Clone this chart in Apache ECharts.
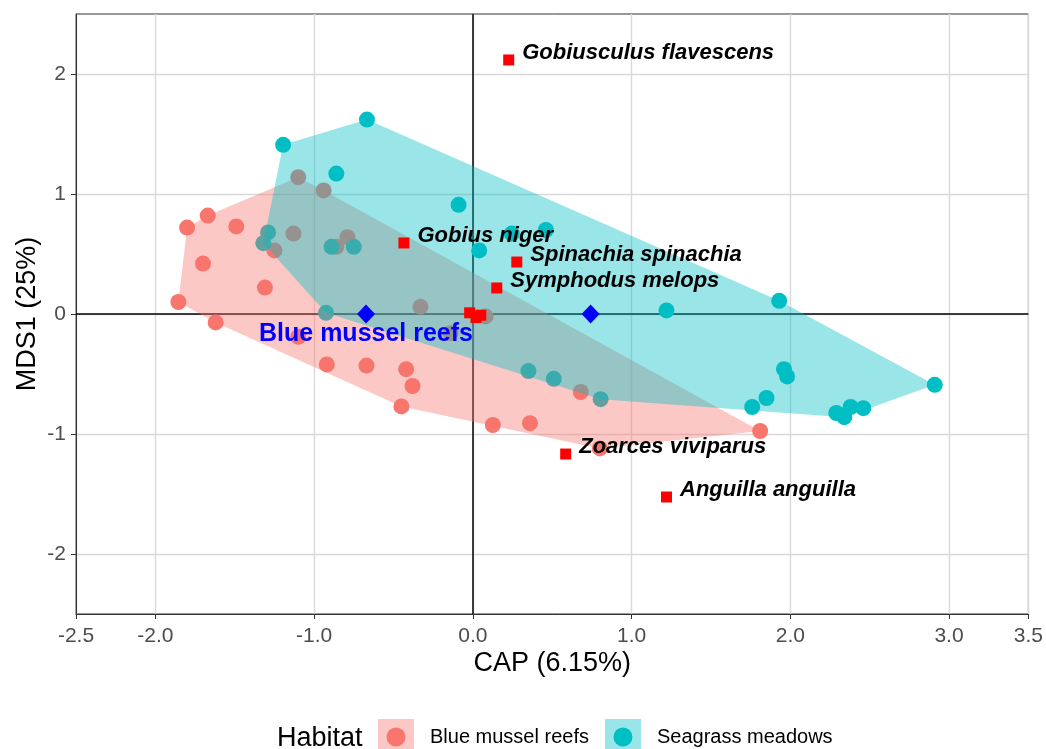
<!DOCTYPE html>
<html>
<head>
<meta charset="utf-8">
<script src="https://cdn.jsdelivr.net/npm/echarts@6/dist/echarts.min.js"></script>
<style>
  html, body { margin: 0; padding: 0; background: #fff; }
  #chart { width: 1046px; height: 749px; }
</style>
</head>
<body>
<div id="chart"></div>
<script>
// sample scores
const blueX = [-1.855, -1.80, -1.67, -1.49, -1.70, -1.62, -1.31, -1.25, -1.10, -0.94, -1.13, -0.79, -0.86, -0.33,
  0.08, -0.14, -0.92, -0.67, -0.42, -0.38, -0.45, 0.126, 0.36, 0.68, 0.80, 1.81, -1.10]
const blueY = [0.10, 0.72, 0.82, 0.73, 0.42, -0.07, 0.22, 0.53, 1.14, 1.03, 0.67, 0.64, 0.56, 0.06,
  -0.02, -0.16, -0.42, -0.43, -0.46, -0.60, -0.77, -0.925, -0.91, -0.65, -1.12, -0.975, -0.19]

const seaX = [-1.195, -0.667, -0.86, -0.09, -1.29, -1.32, -0.89, -0.75, -0.925, 0.04, 0.245, 0.46, 1.22,
  1.93, 0.35, 0.51, 0.805, 1.96, 1.98, 1.85, 1.76, 2.29, 2.34, 2.38, 2.46, 2.91]
const seaY = [1.41, 1.62, 1.17, 0.91, 0.68, 0.59, 0.56, 0.56, 0.01, 0.53, 0.67, 0.70, 0.03,
  0.11, -0.475, -0.54, -0.71, -0.46, -0.52, -0.70, -0.775, -0.825, -0.86, -0.775, -0.785, -0.59]

// species vectors (unlabelled ones sit near the origin)
const speciesNames = ['Gobiusculus flavescens', 'Gobius niger', 'Spinachia spinachia', 'Symphodus melops',
  'Zoarces viviparus', 'Anguilla anguilla', '', '', '']
const speciesX = [0.226, -0.434, 0.277, 0.151, 0.585, 1.22, -0.02, 0.02, 0.05]
const speciesY = [2.117, 0.592, 0.433, 0.217, -1.167, -1.525, 0.01, -0.03, -0.01]

const centroidNames = ['Blue mussel reefs', '']
const centroidX = [-0.673, 0.742]
const centroidY = [0, 0]

const xTicks = [-2.5, -2.0, -1.0, 0.0, 1.0, 2.0, 3.0, 3.5]
const yTicks = [-2, -1, 0, 1, 2]

const BLUE = '#F8766D'
const SEA = '#00BFC4'
const FONT = '"Liberation Sans", Arial, sans-serif'

function pairs(xs, ys) {
  return xs.map((x, i) => [x, ys[i]])
}

// monotone chain convex hull
function hull(pts) {
  const p = pts.slice().sort((a, b) => a[0] - b[0] || a[1] - b[1])
  const cross = (o, a, b) => (a[0] - o[0]) * (b[1] - o[1]) - (a[1] - o[1]) * (b[0] - o[0])
  const lower = []
  for (const q of p) {
    while (lower.length >= 2 && cross(lower[lower.length - 2], lower[lower.length - 1], q) <= 0) lower.pop()
    lower.push(q)
  }
  const upper = []
  for (let i = p.length - 1; i >= 0; i--) {
    const q = p[i]
    while (upper.length >= 2 && cross(upper[upper.length - 2], upper[upper.length - 1], q) <= 0) upper.pop()
    upper.push(q)
  }
  upper.pop()
  lower.pop()
  return lower.concat(upper)
}

const bluePts = pairs(blueX, blueY)
const seaPts = pairs(seaX, seaY)
const blueHull = hull(bluePts)
const seaHull = hull(seaPts)

function hullSeries(name, pts, fill, z) {
  return {
    name,
    type: 'custom',
    silent: true,
    z,
    data: [[pts[0][0], pts[0][1]]],
    renderItem: (params, api) => ({
      type: 'polygon',
      shape: { points: pts.map(p => api.coord(p)) },
      style: { fill },
    }),
  }
}

function keyIcon(fill, dot) {
  const svg = '<svg xmlns="http://www.w3.org/2000/svg" width="47" height="36">' +
    '<rect x="0" y="0" width="36" height="36" fill="' + fill + '"/>' +
    '<circle cx="18" cy="18" r="9.5" fill="' + dot + '"/></svg>'
  return 'image://data:image/svg+xml;charset=utf-8,' + encodeURIComponent(svg)
}

const chart = echarts.init(document.getElementById('chart'))

chart.setOption({
  animation: false,
  backgroundColor: '#fff',
  textStyle: { fontFamily: FONT },
  title: {
    text: 'Habitat',
    left: 277,
    top: 725,
    padding: 0,
    textStyle: { fontSize: 27, fontWeight: 'normal', color: '#000', fontFamily: FONT },
  },
  legend: {
    left: 378,
    top: 719,
    padding: 0,
    itemWidth: 47,
    itemHeight: 36,
    itemGap: 16,
    selectedMode: false,
    textStyle: { fontSize: 20, color: '#000', fontFamily: FONT },
    data: [
      { name: 'Blue mussel reefs', icon: keyIcon('rgba(248,118,109,0.4)', BLUE) },
      { name: 'Seagrass meadows', icon: keyIcon('rgba(0,191,196,0.4)', SEA) },
    ],
  },
  grid: {
    left: 76, right: 16, top: 14, bottom: 135,
    show: true, borderColor: '#333', borderWidth: 1, backgroundColor: 'transparent',
  },
  xAxis: {
    type: 'value',
    min: -2.5,
    max: 3.5,
    splitNumber: 6,
    name: 'CAP (6.15%)',
    nameLocation: 'middle',
    nameGap: 36,
    nameMoveOverlap: false,
    nameTextStyle: { fontSize: 27, color: '#000', fontFamily: FONT },
    axisLine: { show: true, onZero: false, lineStyle: { color: '#333' } },
    axisTick: { show: true, length: 5, lineStyle: { color: '#333' }, customValues: xTicks },
    axisLabel: {
      customValues: xTicks,
      formatter: v => v.toFixed(1),
      color: '#4D4D4D', fontSize: 21, margin: 12, fontFamily: FONT,
    },
    splitLine: { show: true, lineStyle: { color: '#D9D9D9', width: 1.4 } },
  },
  yAxis: {
    type: 'value',
    min: -2.5,
    max: 2.5,
    splitNumber: 5,
    name: 'MDS1 (25%)',
    nameLocation: 'middle',
    nameGap: 35,
    nameMoveOverlap: false,
    nameTextStyle: { fontSize: 27, color: '#000', fontFamily: FONT },
    axisLine: { show: true, onZero: false, lineStyle: { color: '#333' } },
    axisTick: { show: true, length: 5, lineStyle: { color: '#333' }, customValues: yTicks },
    axisLabel: {
      customValues: yTicks,
      formatter: v => String(v),
      color: '#4D4D4D', fontSize: 21, margin: 10, fontFamily: FONT,
    },
    splitLine: { show: true, lineStyle: { color: '#D9D9D9', width: 1.4 } },
  },
  series: [
    {
      name: 'Blue mussel reefs',
      type: 'scatter',
      z: 2,
      silent: true,
      symbolSize: 16,
      itemStyle: { color: BLUE, opacity: 1 },
      data: bluePts,
      markLine: {
        z: 1,
        silent: true,
        symbol: 'none',
        label: { show: false },
        lineStyle: { color: '#000', width: 1.5, type: 'solid' },
        data: [{ xAxis: 0 }, { yAxis: 0 }],
      },
    },
    {
      name: 'Seagrass meadows',
      type: 'scatter',
      z: 2,
      silent: true,
      symbolSize: 16,
      itemStyle: { color: SEA, opacity: 1 },
      data: seaPts,
    },
    hullSeries('blueHull', blueHull, 'rgba(248,118,109,0.4)', 3),
    hullSeries('seaHull', seaHull, 'rgba(0,191,196,0.4)', 4),
    {
      name: 'species',
      type: 'scatter',
      z: 5,
      silent: true,
      symbol: 'rect',
      symbolSize: 11,
      itemStyle: { color: '#FF0000', opacity: 1 },
      label: {
        show: true,
        position: 'right',
        distance: 8,
        offset: [0, -7],
        formatter: p => p.name,
        fontSize: 22,
        fontStyle: 'italic',
        fontWeight: 'bold',
        color: '#000',
        fontFamily: FONT,
      },
      data: speciesNames.map((n, i) => ({ name: n, value: [speciesX[i], speciesY[i]] })),
    },
    {
      name: 'centroids',
      type: 'scatter',
      z: 6,
      silent: true,
      symbol: 'diamond',
      symbolSize: [18, 19],
      itemStyle: { color: '#0000FF', opacity: 1 },
      label: {
        show: true,
        position: 'bottom',
        distance: -2,
        formatter: p => p.name,
        fontSize: 25,
        fontWeight: 'bold',
        color: '#0000FF',
        fontFamily: FONT,
      },
      data: centroidNames.map((n, i) => ({ name: n, value: [centroidX[i], centroidY[i]] })),
    },
  ],
})
</script>
</body>
</html>
